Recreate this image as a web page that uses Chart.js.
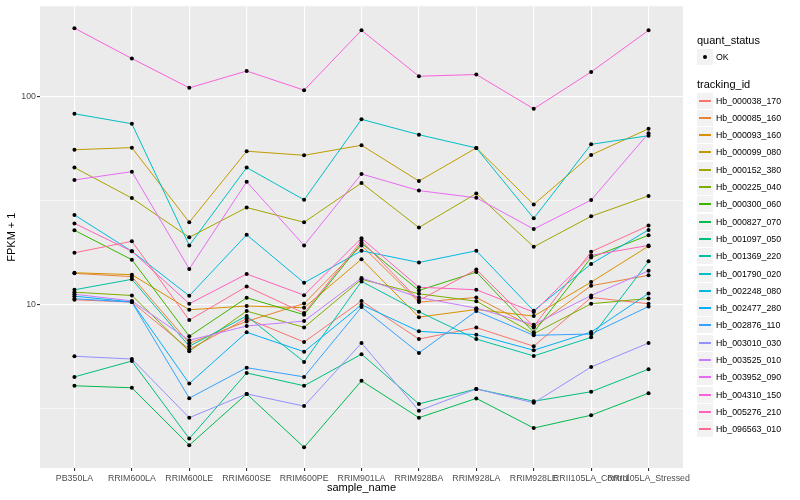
<!DOCTYPE html>
<html>
<head>
<meta charset="utf-8">
<script src="https://cdn.jsdelivr.net/npm/chart.js@4.4.0/dist/chart.umd.min.js"></script>
<style>
body { margin: 0; background: #fff; font-family: "Liberation Sans", Arial, sans-serif; }
#wrap { position: relative; width: 800px; height: 500px; }
#myChart { position: absolute; left: 0; top: 0; }
.ttl { position: absolute; left: 697px; font-size: 11px; color: #000; line-height: 13px; }
.key { position: absolute; left: 697px; width: 16px; height: 16px; background: #F2F2F2; }
.key span { position: absolute; left: 2px; width: 12px; top: 7px; height: 2px; }
.key i { position: absolute; left: 6px; top: 6px; width: 4px; height: 4px; border-radius: 2px; background: #000; }
.lab { position: absolute; left: 716px; font-size: 8.8px; color: #000; line-height: 10px; }
</style>
</head>
<body>
<div id="wrap">
<canvas id="myChart" width="800" height="500"></canvas>
<div id="legend"></div>
</div>
<script>

// sample names on the x axis
const samples = ["PB350LA", "RRIM600LA", "RRIM600LE", "RRIM600SE", "RRIM600PE", "RRIM901LA",
  "RRIM928BA", "RRIM928LA", "RRIM928LE", "RRII105LA_Control", "RRII105LA_Stressed"]

const trackingIds = ["Hb_000038_170", "Hb_000085_160", "Hb_000093_160", "Hb_000099_080", "Hb_000152_380",
  "Hb_000225_040", "Hb_000300_060", "Hb_000827_070", "Hb_001097_050", "Hb_001369_220", "Hb_001790_020",
  "Hb_002248_080", "Hb_002477_280", "Hb_002876_110", "Hb_003010_030", "Hb_003525_010", "Hb_003952_090",
  "Hb_004310_150", "Hb_005276_210", "Hb_096563_010"]

const colours = ["#F8766D", "#EA8331", "#D89000", "#C09B00", "#A3A500", "#7CAE00", "#39B600", "#00BB4E",
  "#00BF7D", "#00C1A3", "#00BFC4", "#00BAE0", "#00B0F6", "#35A2FF", "#9590FF", "#C77CFF", "#E76BF3",
  "#FA62DB", "#FF62BC", "#FF6C91"]

// FPKM + 1 per sample
const Hb_000038_170 = [10.53, 10.26, 6.09, 8.57, 6.60, 10.4, 6.82, 7.74, 6.30, 10.8, 10.08]
const Hb_000085_160 = [14.1, 13.6, 6.51, 8.29, 10.1, 19.2, 10.26, 10.8, 7.74, 12.3, 13.8]
const Hb_000093_160 = [14.2, 13.9, 9.43, 9.83, 9.64, 16.5, 8.69, 9.46, 8.79, 12.8, 19.05]
const Hb_000099_080 = [55.3, 56.6, 24.8, 54.4, 52.0, 58.1, 39.1, 56.4, 30.2, 52.2, 69.7]
const Hb_000152_380 = [45.4, 32.4, 21.0, 29.2, 24.8, 38.3, 23.4, 34.1, 18.9, 26.5, 33.2]
const Hb_000225_040 = [11.45, 11.04, 5.96, 9.29, 7.76, 13.2, 11.25, 10.37, 7.24, 10.08, 10.68]
const Hb_000300_060 = [22.7, 16.4, 7.03, 10.77, 8.93, 19.7, 11.67, 14.3, 7.35, 16.8, 21.5]
const Hb_000827_070 = [4.07, 3.98, 2.11, 3.72, 2.06, 4.30, 2.86, 3.54, 2.55, 2.94, 3.75]
const Hb_001097_050 = [4.49, 5.35, 2.27, 4.69, 4.07, 5.77, 3.33, 3.93, 3.43, 3.81, 4.89]
const Hb_001369_220 = [11.76, 13.2, 6.30, 8.81, 5.30, 12.9, 9.23, 6.82, 5.66, 6.95, 16.1]
const Hb_001790_020 = [82.3, 73.7, 19.2, 45.4, 31.8, 77.4, 65.3, 56.4, 25.9, 58.7, 64.6]
const Hb_002248_080 = [26.9, 18.0, 11.0, 21.6, 12.7, 18.1, 15.9, 18.1, 9.33, 15.65, 22.8]
const Hb_002477_280 = [10.96, 10.28, 4.17, 7.35, 5.93, 9.97, 7.43, 7.16, 6.03, 7.37, 11.29]
const Hb_002876_110 = [10.65, 10.26, 3.55, 4.97, 4.49, 9.71, 5.85, 9.29, 7.11, 7.21, 9.78]
const Hb_003010_030 = [5.64, 5.47, 2.86, 3.72, 3.25, 6.53, 3.09, 3.93, 3.37, 5.01, 6.53]
const Hb_003525_010 = [11.2, 10.4, 6.73, 7.88, 8.32, 13.4, 10.8, 9.60, 8.0, 11.04, 14.5]
const Hb_003952_090 = [39.6, 43.4, 14.8, 38.8, 19.2, 42.3, 35.2, 32.5, 23.0, 31.7, 66.3]
const Hb_004310_150 = [212, 151.5, 109.6, 132, 106.8, 207, 124.6, 127, 86.9, 130.7, 207]
const Hb_005276_210 = [24.5, 18.0, 10.08, 14.0, 11.08, 20.8, 12.1, 11.76, 9.19, 17.2, 19.2]
const Hb_096563_010 = [17.7, 20.1, 8.41, 12.2, 9.09, 20.2, 10.45, 14.7, 7.85, 17.9, 23.9]

const seriesValues = [Hb_000038_170, Hb_000085_160, Hb_000093_160, Hb_000099_080, Hb_000152_380,
  Hb_000225_040, Hb_000300_060, Hb_000827_070, Hb_001097_050, Hb_001369_220, Hb_001790_020,
  Hb_002248_080, Hb_002477_280, Hb_002876_110, Hb_003010_030, Hb_003525_010, Hb_003952_090,
  Hb_004310_150, Hb_005276_210, Hb_096563_010]

// y axis breaks
const yMajor = [10, 100]
const yMinor = [3.1623, 31.623]


// grey panel like ggplot
const panelBg = {
  id: "panelBg",
  beforeDraw(chart) {
    const a = chart.chartArea
    const ctx = chart.ctx
    ctx.save()
    ctx.fillStyle = "#EBEBEB"
    ctx.fillRect(a.left, a.top, a.right - a.left, a.bottom - a.top)
    ctx.restore()
  }
}

let datasets = []
seriesValues.forEach((vals, s) => {
  datasets.push({
    label: trackingIds[s],
    data: vals.map((v, i) => ({x: i, y: v})),
    borderColor: colours[s],
    borderWidth: 1,
    pointRadius: 0,
    fill: false,
    tension: 0,
    order: seriesValues.length - s
  })
})
// black points on top
seriesValues.forEach((vals, s) => {
  datasets.push({
    label: trackingIds[s] + " OK",
    data: vals.map((v, i) => ({x: i, y: v})),
    showLine: false,
    pointRadius: 2,
    pointBackgroundColor: "#000",
    pointBorderWidth: 0,
    order: -1
  })
})

const tickFont = {family: "'Liberation Sans', Arial, sans-serif", size: 8.8}
const titleFont = {family: "'Liberation Sans', Arial, sans-serif", size: 11}

const ctx = document.getElementById("myChart").getContext("2d")
const myChart = new Chart(ctx, {
  type: "line",
  data: {datasets: datasets},
  plugins: [panelBg],
  options: {
    responsive: false,
    animation: false,
    layout: {padding: {top: 5, right: 117, bottom: 0, left: 0}},
    plugins: {legend: {display: false}, tooltip: {enabled: false}},
    scales: {
      x: {
        type: "linear",
        min: -0.6,
        max: samples.length - 0.4,
        afterBuildTicks: (scale) => { scale.ticks = samples.map((s, i) => ({value: i})) },
        afterFit: (scale) => { scale.height = 32 },
        border: {display: false},
        grid: {color: "#FFFFFF", lineWidth: 1.1, tickColor: "#333333", tickLength: 3},
        ticks: {
          autoSkip: false, maxRotation: 0, minRotation: 0, padding: 2,
          color: "#4D4D4D", font: tickFont,
          callback: (v) => samples[Math.round(v)]
        },
        title: {display: true, text: "sample_name", color: "#000", font: titleFont,
          padding: {top: 0, bottom: 5}}
      },
      y: {
        type: "logarithmic",
        min: 1.64,
        max: 270,
        afterBuildTicks: (scale) => {
          scale.ticks = yMinor.concat(yMajor).sort((a, b) => a - b).map(v => ({value: v}))
        },
        afterFit: (scale) => { scale.width = 40 },
        border: {display: false},
        grid: {
          color: "#FFFFFF",
          lineWidth: (c) => yMajor.includes(c.tick.value) ? 1.1 : 0.55,
          tickColor: (c) => yMajor.includes(c.tick.value) ? "#333333" : "rgba(0,0,0,0)",
          tickLength: 3
        },
        ticks: {
          color: "#4D4D4D", font: tickFont, padding: 1,
          callback: (v) => yMajor.includes(v) ? String(v) : ""
        },
        title: {display: true, text: "FPKM + 1", color: "#000", font: titleFont,
          padding: {top: 5, bottom: 0}}
      }
    }
  }
})

// legend at the right
const legend = document.getElementById("legend")
let html = '<div class="ttl" style="top:34px">quant_status</div>'
html += '<div class="key" style="top:49px"><i></i></div>'
html += '<div class="lab" style="top:52px">OK</div>'
html += '<div class="ttl" style="top:78px">tracking_id</div>'
trackingIds.forEach((id, i) => {
  const top = Math.round(92.5 + i * 17.3)
  html += '<div class="key" style="top:' + top + 'px"><span style="background:' + colours[i] + '"></span></div>'
  html += '<div class="lab" style="top:' + (top + 3) + 'px">' + id + '</div>'
})
legend.innerHTML = html

</script>
</body>
</html>
